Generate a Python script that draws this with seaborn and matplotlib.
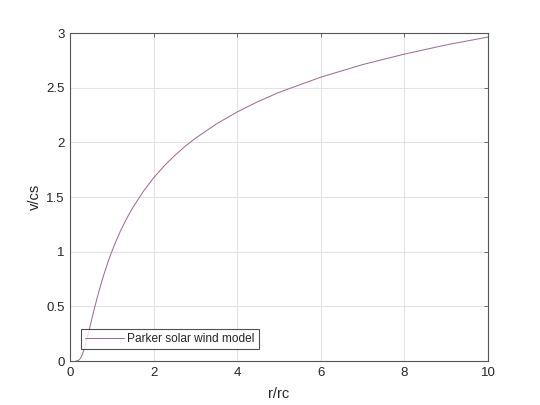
import matplotlib
matplotlib.use("Agg")
import matplotlib.pyplot as plt
import seaborn as sns
import pandas as pd

# Values
r_vals = [0.15, 0.2, 0.25, 0.3, 0.35, 0.4, 0.45, 0.5, 0.55, 0.6, 0.65, 0.7, 0.75, 0.8, 0.9, 0.95, 1.0,
          1.05, 1.1, 1.2, 1.3, 1.4, 1.5, 1.75, 2.0, 2.25, 2.5, 2.75, 3.0, 3.5, 4.0, 4.5, 5.0,
          6.0, 7.0, 8.0, 9.0, 10.0]
v_vals = [0.0003, 0.005, 0.024, 0.064, 0.122, 0.192, 0.27, 0.349, 0.428, 0.504, 0.578, 0.648, 0.714, 0.779, 0.894, 0.949, 1.0,
          1.049, 1.095, 1.183, 1.261, 1.334, 1.401, 1.549, 1.675, 1.783, 1.878, 1.962, 2.037, 2.168, 2.278, 2.373, 2.457,
          2.596, 2.711, 2.807, 2.891, 2.963]
series_label = "Parker solar wind model"
x_ticks = [0, 2, 4, 6, 8, 10]
y_ticks = [0, 0.5, 1, 1.5, 2, 2.5, 3]
y_tick_labels = ["0", "0.5", "1", "1.5", "2", "2.5", "3"]

sns.set_style("white")
plt.rcParams["font.family"] = ["Liberation Sans", "DejaVu Sans"]

df = pd.DataFrame({"r/rc": r_vals, "v/cs": v_vals})

fig = plt.figure(figsize=(5.4, 4.05), dpi=100)
ax = fig.add_axes([70/540, 44/405, 418/540, 328/405])

sns.lineplot(data=df, x="r/rc", y="v/cs", ax=ax, color="#9c7196", linewidth=0.75,
             label=series_label)

ax.set_xlim(0, 10)
ax.set_ylim(0, 3)
ax.set_xticks(x_ticks)
ax.set_xticklabels([str(t) for t in x_ticks])
ax.set_yticks(y_ticks)
ax.set_yticklabels(y_tick_labels)
ax.grid(True, color="#e3e3e3", linewidth=0.8)
ax.set_axisbelow(True)
for s in ax.spines.values():
    s.set_color("#555555")
    s.set_linewidth(0.8)
ax.tick_params(direction="in", length=3, width=0.6, color="#555555",
               top=True, right=True, labelsize=9.5, labelcolor="#262626", pad=4)
ax.set_xlabel("r/rc", fontsize=10.5, color="#262626", labelpad=6)
ax.set_ylabel("v/cs", fontsize=10.5, color="#262626", labelpad=3)

leg = ax.legend(loc="lower left", bbox_to_anchor=(0.027, 0.036), fontsize=8.6,
                frameon=True, fancybox=False, edgecolor="#262626",
                handlelength=3.2, borderpad=0.35, handletextpad=0.3,
                borderaxespad=0)
leg.get_frame().set_linewidth(0.8)

fig.savefig("out.png", dpi=100, facecolor="white")
